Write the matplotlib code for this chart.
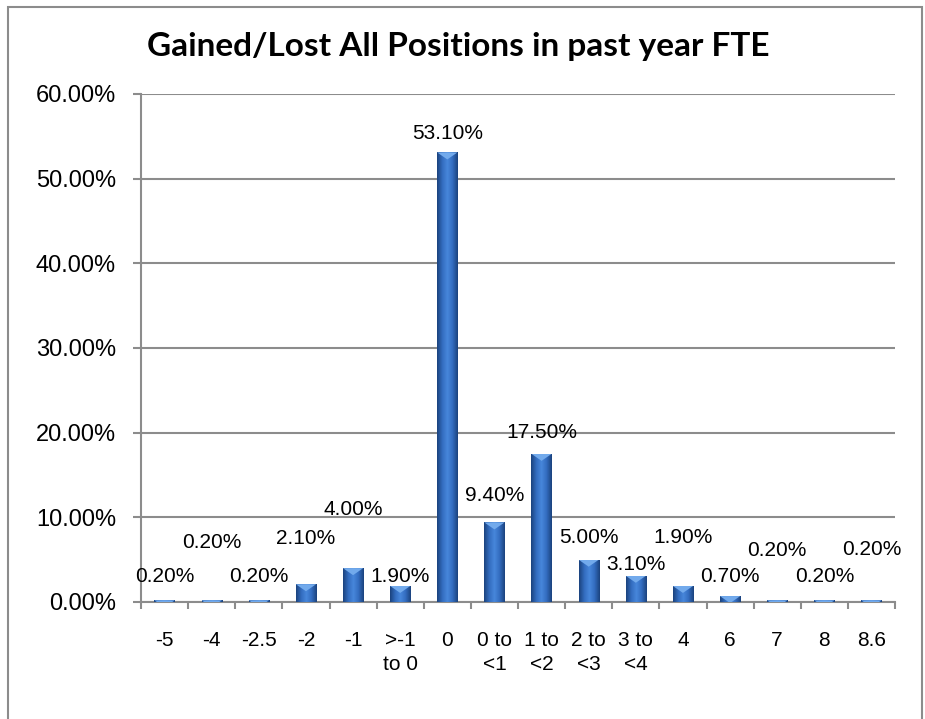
"""Gained/Lost All Positions in past year FTE"""
import numpy as np
import matplotlib.pyplot as plt
from matplotlib import font_manager
from matplotlib.patches import Rectangle, Polygon
from matplotlib.colors import LinearSegmentedColormap

categories = ['-5', '-4', '-2.5', '-2', '-1', '>-1\nto 0', '0', '0 to\n<1',
              '1 to\n<2', '2 to\n<3', '3 to\n<4', '4', '6', '7', '8', '8.6']
values = [0.2, 0.2, 0.2, 2.1, 4.0, 1.9, 53.1, 9.4, 17.5, 5.0, 3.1, 1.9,
          0.7, 0.2, 0.2, 0.2]
# where Excel put each data label (label centre, in % units)
label_y = [3.07, 7.07, 3.07, 7.54, 10.96, 3.07, 55.3, 12.6, 20.0, 7.66,
           4.48, 7.66, 3.07, 6.13, 3.07, 6.25]

names = {f.name for f in font_manager.fontManager.ttflist}
if 'Liberation Sans Narrow' in names:
    small_font, small_size = 'Liberation Sans Narrow', 16
else:
    small_font, small_size = 'Liberation Sans', 15

fig = plt.figure(figsize=(9.25, 7.19), dpi=100)
ax = fig.add_axes([141/925, 117/719, 754/925, 508/719])

# chart border
fig.patches.append(Rectangle((8/925, -0.02), 914/925, 1.02 - 7/719,
                             transform=fig.transFigure, fill=False,
                             edgecolor='#8c8c8c', linewidth=1.5))

ind = np.arange(len(values))
width = 0.43
bars = ax.bar(ind, values, width, color='#3569b0', zorder=3)

# shaded 3d look: dark edges, lighter middle, bevel at top
cmap = LinearSegmentedColormap.from_list(
    'bev', ['#1b437e', '#336cbf', '#4787db', '#336cbf', '#1b437e'])
grad = np.linspace(0, 1, 64).reshape(1, -1)
px = 60.0 / 508  # data units per pixel
for rect in bars:
    x0, w, h = rect.get_x(), rect.get_width(), rect.get_height()
    im = ax.imshow(grad, cmap=cmap, aspect='auto', extent=(x0, x0 + w, 0, h),
                   zorder=4)
    im.set_clip_path(rect)
    tri = Polygon([(x0, h), (x0 + w, h), (x0 + w / 2, h - 7 * px)],
                  closed=True, facecolor='#72aaec', edgecolor='none', zorder=5)
    ax.add_patch(tri)
    tri.set_clip_path(rect)

for i, v in enumerate(values):
    ax.text(ind[i], label_y[i], '%.2f%%' % v, ha='center', va='center',
            fontsize=small_size, family=small_font, zorder=6)

ax.set_xlim(-0.5, len(values) - 0.5)
ax.set_ylim(0, 60)
ax.set_yticks(np.arange(0, 61, 10))
ax.set_yticklabels(['%.2f%%' % t for t in np.arange(0, 61, 10)],
                   family='Liberation Sans', fontsize=17)
ax.yaxis.grid(True, color='#8c8c8c', linewidth=1.5, zorder=0)
ax.set_axisbelow(True)

ax.set_xticks(np.arange(-0.5, len(values)), minor=False)
ax.set_xticklabels([])
ax.set_xticks(ind, minor=True)
ax.set_xticklabels(categories, minor=True, family=small_font,
                   fontsize=small_size, linespacing=1.3, va='top')
ax.tick_params(axis='x', which='major', length=5, width=1.5, color='#8c8c8c')
ax.tick_params(axis='x', which='minor', length=0, pad=21)
ax.tick_params(axis='y', which='major', length=6, width=1.5,
               color='#8c8c8c', pad=12)

for s in ['top', 'right']:
    ax.spines[s].set_visible(False)
for s in ['left', 'bottom']:
    ax.spines[s].set_color('#8c8c8c')
    ax.spines[s].set_linewidth(1.5)

fig.text(0.495, 0.936, 'Gained/Lost All Positions in past year FTE',
         ha='center', va='center', fontsize=24, fontweight='bold',
         family='Lato')

plt.savefig('out.png', dpi=100)
